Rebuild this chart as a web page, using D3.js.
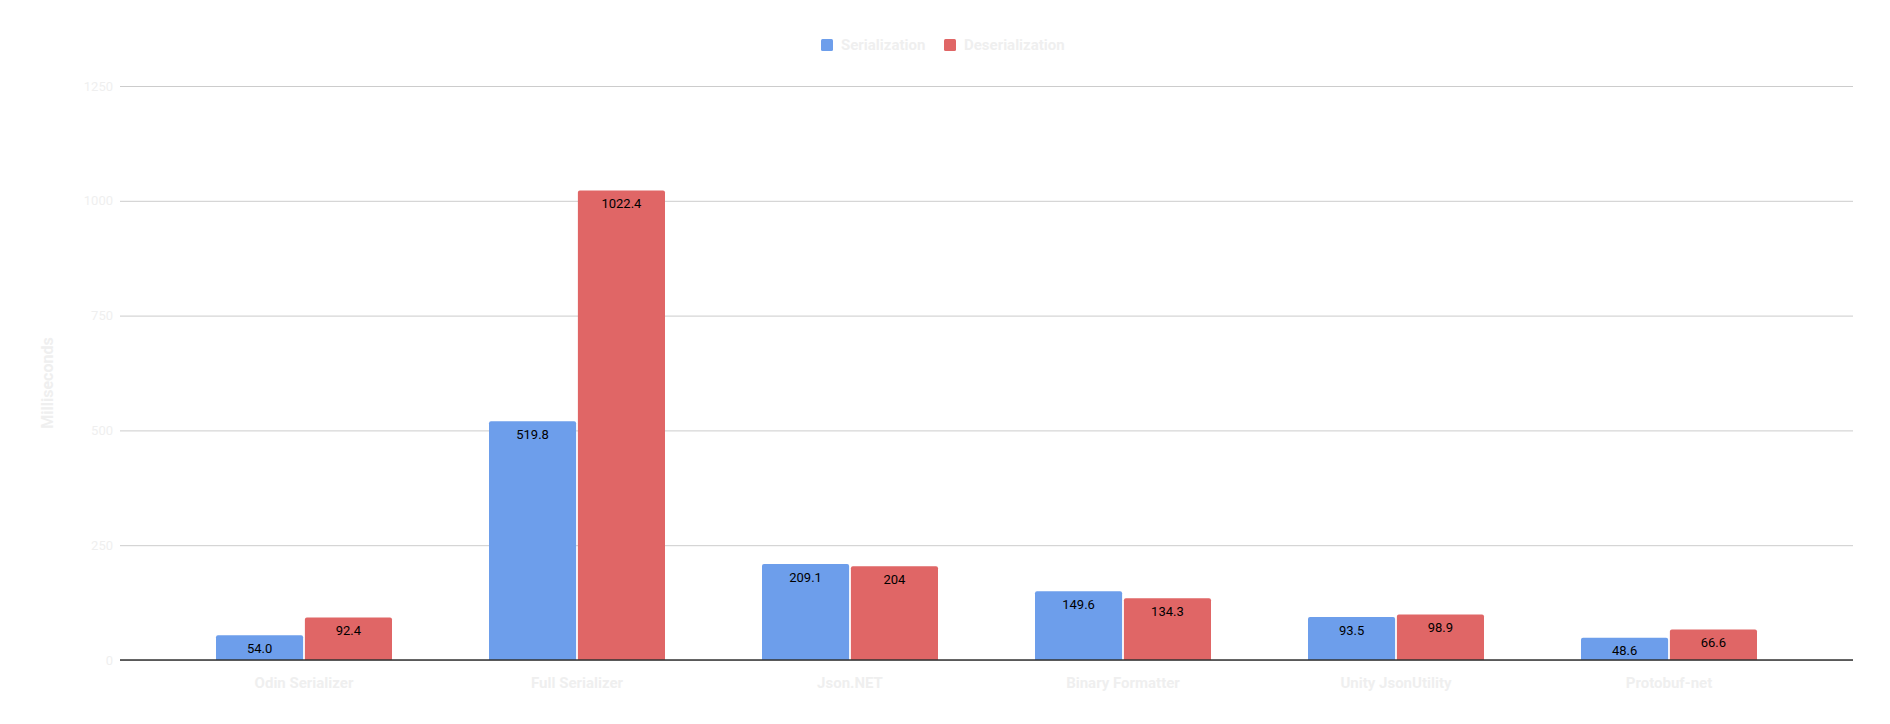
<!DOCTYPE html>
<html><head><meta charset="utf-8">
<script src="https://cdn.jsdelivr.net/npm/d3@7"></script>
<style>body{margin:0;background:#fff}svg{display:block;font-family:Roboto,sans-serif}</style>
</head><body><svg id="c" width="1890" height="724"></svg>
<script>
const categories = ["Odin Serializer","Full Serializer","Json.NET","Binary Formatter","Unity JsonUtility","Protobuf-net"];
const seriesNames = ["Serialization","Deserialization"];
const serialization = [54.0, 519.8, 209.1, 149.6, 93.5, 48.6];
const deserialization = [92.4, 1022.4, 204, 134.3, 98.9, 66.6];
const serializationLabels = ["54.0","519.8","209.1","149.6","93.5","48.6"];
const deserializationLabels = ["92.4","1022.4","204","134.3","98.9","66.6"];
const yTicks = [0,250,500,750,1000,1250];
const colors = ["#6d9eeb","#e06666"];
const textColor = "#efefef";

(function(){
const svg = d3.select("#c");
const pLeft=120, pRight=1853, pTop=86, pBottom=660;
const y = d3.scaleLinear().domain([0,1250]).range([pBottom,pTop]);
const x = d3.scaleBand().domain(categories).range([167.5,1805.5]).paddingInner(0).paddingOuter(0);
const inner = d3.scaleBand().domain(seriesNames).range([0,176]).paddingInner(0.02);
const groupOff = (x.bandwidth()-176)/2;

const yAxis = d3.axisLeft(y).tickValues(yTicks).tickSize(-(pRight-pLeft)).tickPadding(6).tickFormat(d3.format("d"));
const ga = svg.append("g").attr("transform",`translate(${pLeft},0)`).call(yAxis);
ga.select(".domain").remove();
ga.selectAll(".tick line").attr("stroke","#cccccc").attr("stroke-width",1);
ga.selectAll(".tick text").attr("fill",textColor).attr("font-size",13).attr("font-family","Roboto").attr("x",-7);

const data = categories.map((c,i)=>({c, vals:[serialization[i],deserialization[i]], labs:[serializationLabels[i],deserializationLabels[i]]}));
const r=2;
function topRounded(x0,y0,w,h){
  return `M${x0},${y0+h}V${y0+r}Q${x0},${y0} ${x0+r},${y0}H${x0+w-r}Q${x0+w},${y0} ${x0+w},${y0+r}V${y0+h}Z`;
}
const g = svg.append("g");
data.forEach(d=>{
  seriesNames.forEach((s,j)=>{
    const bx = x(d.c)+groupOff+inner(s);
    const by = y(d.vals[j]);
    g.append("path").attr("d",topRounded(bx,by,inner.bandwidth(),pBottom-by)).attr("fill",colors[j]);
    g.append("text").attr("x",bx+inner.bandwidth()/2).attr("y",by+13).attr("dy","0.35em")
      .attr("text-anchor","middle").attr("font-size",13).attr("fill","#000").text(d.labs[j]);
  });
});

svg.append("line").attr("x1",pLeft).attr("x2",pRight).attr("y1",y(0)).attr("y2",y(0)).attr("stroke","#333333").attr("stroke-width",1.5);

const xAxis = d3.axisBottom(x).tickSize(0).tickPadding(17);
const gx = svg.append("g").attr("transform",`translate(0,${pBottom})`).call(xAxis);
gx.select(".domain").remove();
gx.selectAll(".tick text").attr("fill",textColor).attr("font-size",15).attr("font-weight",700).attr("font-family","Roboto").attr("dy","0.71em");

svg.append("text").attr("transform",`translate(47,383) rotate(-90)`).attr("text-anchor","middle").attr("dy","0.35em")
  .attr("fill",textColor).attr("font-size",16).attr("font-weight",700).text("Milliseconds");

const leg = svg.append("g");
const legX=[821,944];
seriesNames.forEach((s,j)=>{
  leg.append("rect").attr("x",legX[j]).attr("y",39).attr("width",12).attr("height",12).attr("rx",1.5).attr("fill",colors[j]);
  leg.append("text").attr("x",legX[j]+20).attr("y",45).attr("dy","0.35em").attr("font-size",15).attr("font-weight",700)
    .attr("fill",textColor).text(s);
});
})();
</script></body></html>
